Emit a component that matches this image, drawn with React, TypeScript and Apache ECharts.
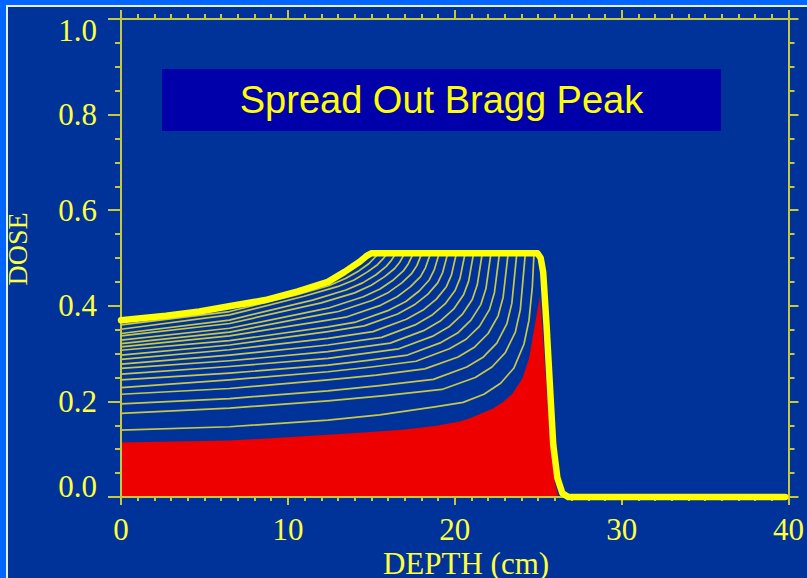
import React, { useEffect, useRef } from "react";
import * as echarts from "echarts";

const titleText = "Spread Out Bragg Peak";
const xName = "DEPTH (cm)";
const yName = "DOSE";

// Deepest pristine Bragg peak (red filled area)
const redPeak: number[][] = [[0,0.114],[6.5,0.118],[10,0.125],[12.4,0.13],[15,0.136],[17,0.141],[18.9,0.149],[20.3,0.158],[20.9,0.165],[22.3,0.185],[22.9,0.199],[23.45,0.216],[24.05,0.248],[24.45,0.29],[24.75,0.35],[25.1,0.42],[25.3,0.33],[25.7,0.12],[26.0,0.03],[26.2,0]];

// Spread-out Bragg peak envelope (thick yellow)
const envelope: number[][] = [[0,0.370],[2.7,0.379],[4.7,0.388],[6.65,0.400],[8.64,0.412],[10.6,0.430],[12.4,0.450],[13.4,0.471],[14.3,0.492],[14.75,0.505],[15.0,0.510],[24.95,0.510],[25.15,0.500],[25.3,0.470],[25.5,0.360],[25.9,0.110],[26.15,0.040],[26.45,0.008],[26.8,0],[39.8,0]];

// Partial sums (thin lines)
const line01: number[][] = [[0,0.140],[6.5,0.147],[12.4,0.161],[15.5,0.172],[18.9,0.189],[20.5,0.198],[21.75,0.215],[22.75,0.238],[23.55,0.27],[24.15,0.32],[24.45,0.37],[24.65,0.44],[24.75,0.51]];
const line02: number[][] = [[0,0.175],[6.5,0.186],[12.4,0.201],[15.8,0.212],[19.23,0.225],[21.23,0.250],[22.23,0.272],[23.03,0.302],[23.63,0.345],[23.93,0.392],[24.23,0.51]];
const line03: number[][] = [[0,0.195],[6.5,0.206],[12.4,0.222],[15.5,0.233],[18.72,0.246],[20.72,0.272],[21.72,0.293],[22.52,0.322],[23.12,0.362],[23.42,0.405],[23.72,0.51]];
const line04: number[][] = [[0,0.215],[6.5,0.227],[12.4,0.245],[15.3,0.255],[18.2,0.268],[20.2,0.293],[21.2,0.314],[22.0,0.342],[22.6,0.379],[22.9,0.418],[23.2,0.51]];
const line05: number[][] = [[0,0.229],[6.5,0.245],[12.4,0.262],[15.0,0.272],[17.68,0.284],[19.68,0.310],[20.68,0.330],[21.48,0.357],[22.08,0.392],[22.38,0.428],[22.68,0.51]];
const line06: number[][] = [[0,0.245],[6.5,0.259],[12.4,0.276],[14.8,0.286],[17.17,0.297],[19.17,0.323],[20.17,0.343],[20.97,0.370],[21.57,0.403],[21.87,0.436],[22.17,0.51]];
const line07: number[][] = [[0,0.257],[6.5,0.273],[12.4,0.290],[16.65,0.310],[18.65,0.336],[19.65,0.356],[20.45,0.382],[21.05,0.413],[21.35,0.444],[21.65,0.51]];
const line08: number[][] = [[0,0.269],[6.5,0.285],[12.4,0.304],[16.13,0.322],[18.13,0.348],[19.13,0.368],[19.93,0.393],[20.53,0.423],[20.83,0.451],[21.13,0.51]];
const line09: number[][] = [[0,0.278],[6.5,0.297],[12.4,0.318],[15.62,0.334],[17.62,0.360],[18.62,0.380],[19.42,0.404],[20.02,0.432],[20.32,0.458],[20.62,0.51]];
const line10: number[][] = [[0,0.288],[6.5,0.308],[12.4,0.332],[15.1,0.346],[17.1,0.372],[18.1,0.391],[18.9,0.414],[19.5,0.440],[19.8,0.464],[20.1,0.51]];
const line11: number[][] = [[0,0.297],[6.5,0.318],[12.4,0.346],[14.58,0.358],[16.58,0.383],[17.58,0.402],[18.38,0.424],[18.98,0.448],[19.28,0.470],[19.58,0.51]];
const line12: number[][] = [[0,0.307],[6.5,0.327],[12.4,0.356],[14.07,0.366],[16.07,0.391],[17.07,0.409],[17.87,0.431],[18.47,0.454],[18.77,0.475],[19.07,0.51]];
const line13: number[][] = [[0,0.314],[6.5,0.337],[12.4,0.370],[13.55,0.377],[15.55,0.401],[16.55,0.419],[17.35,0.440],[17.95,0.461],[18.25,0.480],[18.55,0.51]];
const line14: number[][] = [[0,0.321],[6.5,0.345],[12.4,0.384],[13.03,0.388],[15.03,0.411],[16.03,0.428],[16.83,0.448],[17.43,0.468],[17.73,0.484],[18.03,0.51]];
const line15: number[][] = [[0,0.328],[6.5,0.353],[12.4,0.395],[14.52,0.419],[15.52,0.435],[16.32,0.454],[16.92,0.473],[17.22,0.488],[17.52,0.51]];
const line16: number[][] = [[0,0.337],[6.5,0.363],[12.0,0.406],[14.0,0.427],[15.0,0.443],[15.8,0.461],[16.4,0.478],[16.7,0.491],[17.0,0.51]];
const line17: number[][] = [[0,0.342],[6.5,0.370],[11.48,0.412],[13.48,0.433],[14.48,0.448],[15.28,0.465],[15.88,0.482],[16.18,0.494],[16.48,0.51]];
const line18: number[][] = [[0,0.351],[6.5,0.381],[10.97,0.420],[12.97,0.440],[13.97,0.454],[14.77,0.471],[15.37,0.486],[15.67,0.497],[15.97,0.51]];
const line19: number[][] = [[0,0.360],[6.5,0.388],[10.45,0.422],[12.45,0.442],[13.45,0.457],[14.25,0.473],[14.85,0.488],[15.15,0.499],[15.45,0.51]];

const thinLines = [line01,line02,line03,line04,line05,line06,line07,line08,line09,line10,line11,line12,line13,line14,line15,line16,line17,line18,line19];

const AXIS = "#c8c83c";
const LABEL = "#ffff3c";
const SERIF = "'Liberation Serif', 'Times New Roman', serif";

export default function App() {
  const ref = useRef<HTMLDivElement>(null);
  useEffect(() => {
    if (!ref.current) return;
    const chart = echarts.init(ref.current, undefined, { renderer: "svg" });
    const axLine = { show: true, onZero: false, lineStyle: { color: AXIS, width: 2 } };
    const tickStyle = { color: AXIS, width: 2 };
    const labelRich = {
      lo: { color: LABEL, fontFamily: SERIF, fontSize: 31, padding: [0, 0, 21, 0] },
      hi: { color: LABEL, fontFamily: SERIF, fontSize: 31, padding: [23, 0, 0, 0] },
      n: { color: LABEL, fontFamily: SERIF, fontSize: 31 },
    };
    const option: any = {
      animation: false,
      backgroundColor: "#003399",
      grid: { left: 121, top: 19, width: 675, height: 478, containLabel: false },
      xAxis: [
        {
          type: "value", min: 0, max: 40, interval: 10, position: "bottom", z: 2,
          axisLine: axLine,
          axisTick: { show: true, inside: false, length: 8, lineStyle: tickStyle },
          minorTick: { show: true, splitNumber: 10, length: 4, lineStyle: tickStyle },
          splitLine: { show: false },
          axisLabel: { show: true, color: LABEL, fontFamily: SERIF, fontSize: 31, lineHeight: 24, margin: 20 },
        },
        {
          type: "value", min: 0, max: 40, interval: 10, position: "top", z: 2,
          axisLine: axLine,
          axisTick: { show: true, inside: false, length: 9, lineStyle: tickStyle },
          minorTick: { show: true, splitNumber: 10, length: 5, lineStyle: tickStyle },
          splitLine: { show: false },
          axisLabel: { show: false },
        },
      ],
      yAxis: [
        {
          type: "value", min: 0, max: 1, interval: 0.2, position: "left", z: 2,
          axisLine: axLine,
          axisTick: { show: true, inside: false, length: 13, lineStyle: tickStyle },
          minorTick: { show: true, splitNumber: 4, length: 6, lineStyle: tickStyle },
          splitLine: { show: false },
          axisLabel: {
            show: true, color: LABEL, fontFamily: SERIF, fontSize: 31, margin: 24,
            formatter: (v: number) => {
              const s = v.toFixed(1);
              if (v <= 0.0001) return "{lo|" + s + "}";
              if (v >= 0.9999) return "{hi|" + s + "}";
              return "{n|" + s + "}";
            },
            rich: labelRich,
          },
        },
        {
          type: "value", min: 0, max: 1, interval: 0.2, position: "right", z: 2,
          axisLine: axLine,
          axisTick: { show: true, inside: false, length: 10, lineStyle: tickStyle },
          minorTick: { show: true, splitNumber: 4, length: 6, lineStyle: tickStyle },
          splitLine: { show: false },
          axisLabel: { show: false },
        },
      ],
      graphic: [
        { type: "rect", shape: { x: 0, y: 0, width: 6, height: 578 }, style: { fill: "#0066ff" } },
        { type: "rect", shape: { x: 0, y: 0, width: 807, height: 5 }, style: { fill: "#0066ff" } },
        { type: "rect", shape: { x: 6, y: 5, width: 2, height: 573 }, style: { fill: "#e8eeff" } },
        { type: "rect", shape: { x: 6, y: 5, width: 801, height: 2 }, style: { fill: "#e8eeff" } },
        { type: "rect", shape: { x: 162, y: 69, width: 559, height: 62 }, style: { fill: "#0000aa" } },
        {
          type: "text", x: 441.5, y: 100,
          style: { text: titleText, fill: "#ffff00", fontSize: 38, fontFamily: "'Liberation Sans', Arial, sans-serif",
            textAlign: "center", textVerticalAlign: "middle", align: "center", verticalAlign: "middle" },
        },
        {
          type: "text", x: 17.5, y: 249, rotation: Math.PI / 2,
          style: { text: yName, fill: LABEL, fontSize: 28, fontFamily: SERIF,
            textAlign: "center", textVerticalAlign: "middle", align: "center", verticalAlign: "middle" },
        },
        {
          type: "text", x: 466, y: 563,
          style: { text: xName, fill: LABEL, fontSize: 31, fontFamily: SERIF,
            textAlign: "center", textVerticalAlign: "middle", align: "center", verticalAlign: "middle" },
        },
      ],
      series: [
        {
          type: "line", data: redPeak, symbol: "none", z: 1, clip: false,
          lineStyle: { width: 0, color: "#ee0000" },
          areaStyle: { color: "#ee0000", opacity: 1 },
        },
        ...thinLines.map((d) => ({
          type: "line", data: d, symbol: "none", z: 3, clip: false,
          lineStyle: { width: 1.7, color: "#c8c846", join: "round" },
        })),
        {
          type: "line", data: envelope, symbol: "none", z: 4, clip: false,
          lineStyle: { width: 6.5, color: "#ffff00", cap: "round", join: "round" },
        },
      ],
    };
    chart.setOption(option);
    return () => chart.dispose();
  }, []);
  return (
    <div
      ref={ref}
      style={{ position: "fixed", left: 0, top: 0, width: 807, height: 578 }}
    />
  );
}
